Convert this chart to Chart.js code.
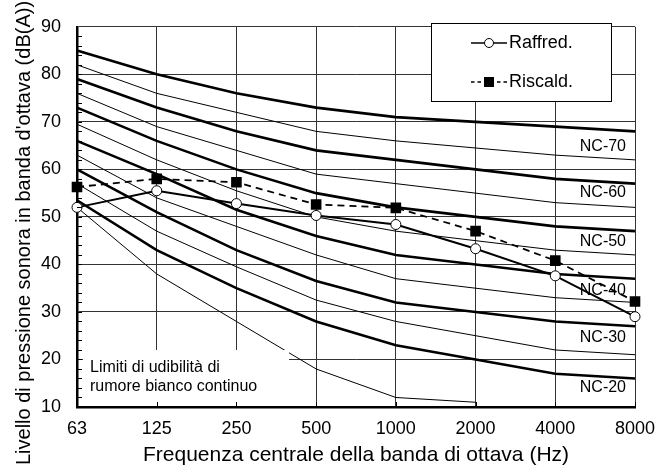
<!DOCTYPE html>
<html>
<head>
<meta charset="utf-8">
<script src="https://cdn.jsdelivr.net/npm/chart.js@4.4.0/dist/chart.umd.min.js"></script>
<style>
  html, body { margin: 0; padding: 0; background: #fff; }
  canvas { display: block; }
</style>
</head>
<body>
<canvas id="myChart" width="670" height="472"></canvas>
<script>
// frequenze centrali di banda d'ottava (Hz)
const freqLabels = ['63', '125', '250', '500', '1000', '2000', '4000', '8000'];
const yTicks = [10, 20, 30, 40, 50, 60, 70, 80, 90];

// misure
const raffred = [52, 55.5, 52.8, 50.3, 48.4, 43.3, 37.6, 29];
const riscald = [56.3, 58, 57.3, 52.6, 51.9, 47, 40.8, 32.2];

// curve NC
const nc70 = [85, 80, 76, 73, 71, 70, 69, 68];
const nc65 = [82, 76, 72, 68, 66, 64.5, 63, 62];
const nc60 = [79, 73, 68, 64, 62, 60, 58, 57];
const nc55 = [76, 69, 64, 59, 57, 55, 53, 52];
const nc50 = [73, 66, 60, 55, 52, 50, 48, 47];
const nc45 = [69.5, 62, 55.5, 50, 47, 45, 43, 42];
const nc40 = [66, 59, 51.5, 46, 42, 40, 38, 37];
const nc35 = [63, 54, 48, 42, 37, 35, 33, 32];
const nc30 = [60, 51, 43, 36.5, 32, 30, 28, 27];
const nc25 = [57, 47, 39.5, 32.5, 28, 25, 22, 21];
const nc20 = [53.5, 43, 35, 28, 23, 20, 17, 16];
// limiti di udibilita' del rumore bianco continuo
const soglia = [52, 38, 28, 18, 12, 11, null, null];

const ncLabels = ['NC-70', 'NC-60', 'NC-50', 'NC-40', 'NC-30', 'NC-20'];

const FONT = "'Liberation Sans', Arial, sans-serif";

function ncLine(data, thick) {
  return {
    data: data,
    borderColor: '#000',
    borderWidth: thick ? 2.6 : 1,
    pointRadius: 0,
    fill: false,
    tension: 0
  };
}

// testo, legenda e tacche disegnati a mano
const extras = {
  id: 'extras',
  afterDatasetsDraw(chart) {
    const ctx = chart.ctx;
    const a = chart.chartArea;
    const x = chart.scales.x;
    const y = chart.scales.y;
    ctx.save();

    // riquadro bianco con la nota
    const boxTop = y.getPixelForValue(22);
    const boxRight = x.getPixelForValue(2) + 0.66 * (x.getPixelForValue(3) - x.getPixelForValue(2));
    ctx.fillStyle = '#fff';
    ctx.fillRect(a.left + 6, boxTop, boxRight - a.left - 6, a.bottom - boxTop - 1);
    ctx.fillStyle = '#000';
    ctx.font = '16px ' + FONT;
    ctx.textAlign = 'left';
    ctx.textBaseline = 'middle';
    ctx.fillText('Limiti di udibilità di', a.left + 13, 368);
    ctx.fillText('rumore bianco continuo', a.left + 13, 387);

    // tacche interne
    ctx.strokeStyle = '#000';
    ctx.lineWidth = 1;
    ctx.beginPath();
    for (let v = 12; v < 90; v += 2) {
      const py = Math.round(y.getPixelForValue(v)) + 0.5;
      ctx.moveTo(a.left, py);
      ctx.lineTo(a.left + 5, py);
    }
    for (let i = 0; i < freqLabels.length; i++) {
      const px = Math.round(x.getPixelForValue(i)) + 0.5;
      ctx.moveTo(px, a.bottom);
      ctx.lineTo(px, a.bottom - 5);
    }
    ctx.stroke();

    // etichette NC
    const labelVals = [64.8, 55.1, 44.9, 34.5, 24.6, 14];
    ctx.font = '16px ' + FONT;
    ctx.textAlign = 'right';
    ctx.textBaseline = 'middle';
    ncLabels.forEach((t, i) => {
      ctx.fillText(t, a.right - 9, y.getPixelForValue(labelVals[i]));
    });

    // legenda
    const lx = 431.5, ly = 23.5, lw = 180, lh = 78;
    ctx.fillStyle = '#fff';
    ctx.fillRect(lx, ly, lw, lh);
    ctx.strokeStyle = '#000';
    ctx.lineWidth = 1;
    ctx.strokeRect(lx, ly, lw, lh);

    ctx.lineWidth = 1.5;
    ctx.beginPath();
    ctx.moveTo(471, 43);
    ctx.lineTo(507, 43);
    ctx.stroke();
    ctx.beginPath();
    ctx.arc(489, 43, 4.5, 0, Math.PI * 2);
    ctx.fillStyle = '#fff';
    ctx.fill();
    ctx.lineWidth = 1;
    ctx.stroke();

    ctx.lineWidth = 1.5;
    ctx.setLineDash([3.5, 3]);
    ctx.beginPath();
    ctx.moveTo(471, 82);
    ctx.lineTo(507, 82);
    ctx.stroke();
    ctx.setLineDash([]);
    ctx.fillStyle = '#000';
    ctx.fillRect(484, 77, 10, 10);

    ctx.font = '18px ' + FONT;
    ctx.textAlign = 'left';
    ctx.fillText('Raffred.', 509, 43);
    ctx.fillText('Riscald.', 509, 82);

    // titolo asse y
    ctx.translate(30, 233);
    ctx.rotate(-Math.PI / 2);
    ctx.font = '20px ' + FONT;
    ctx.textAlign = 'center';
    ctx.textBaseline = 'alphabetic';
    ctx.fillText("Livello di pressione sonora in banda d'ottava (dB(A))", 0, 0);

    ctx.restore();
  }
};

var ctx = document.getElementById('myChart').getContext('2d');
var chart = new Chart(ctx, {
  type: 'line',
  data: {
    labels: freqLabels,
    datasets: [
      {
        label: 'Riscald.',
        data: riscald,
        borderColor: '#000',
        borderWidth: 1.8,
        borderDash: [7, 5],
        pointStyle: 'rect',
        pointRadius: 7.5,
        pointBackgroundColor: '#000',
        pointBorderColor: '#000',
        pointBorderWidth: 0,
        tension: 0
      },
      {
        label: 'Raffred.',
        data: raffred,
        borderColor: '#000',
        borderWidth: 2,
        pointStyle: 'circle',
        pointRadius: 5,
        pointBackgroundColor: '#fff',
        pointBorderColor: '#000',
        pointBorderWidth: 1,
        tension: 0
      },
      ncLine(nc70, true),
      ncLine(nc65, false),
      ncLine(nc60, true),
      ncLine(nc55, false),
      ncLine(nc50, true),
      ncLine(nc45, false),
      ncLine(nc40, true),
      ncLine(nc35, false),
      ncLine(nc30, true),
      ncLine(nc25, false),
      ncLine(nc20, true),
      ncLine(soglia, false)
    ]
  },
  options: {
    responsive: false,
    animation: false,
    devicePixelRatio: 1,
    layout: { padding: { top: 13, right: 35, left: 0, bottom: 0 } },
    plugins: {
      legend: { display: false },
      tooltip: { enabled: false }
    },
    scales: {
      x: {
        type: 'category',
        offset: false,
        afterFit: (s) => { s.height = 65; },
        grid: { color: '#333', lineWidth: 1, drawTicks: false },
        border: { color: '#000', width: 2.5 },
        ticks: { color: '#000', font: { family: FONT, size: 18 }, padding: 11, maxRotation: 0 },
        title: {
          display: true,
          text: 'Frequenza centrale della banda di ottava (Hz)',
          color: '#000',
          font: { family: FONT, size: 21 },
          padding: { top: 0, bottom: 4 }
        }
      },
      y: {
        min: 10,
        max: 90,
        afterFit: (s) => { s.width = 77; },
        afterBuildTicks: (s) => { s.ticks = yTicks.map(v => ({ value: v })); },
        grid: { color: '#333', lineWidth: 1, drawTicks: false },
        border: { color: '#000', width: 2.5 },
        ticks: { color: '#000', font: { family: FONT, size: 18 }, padding: 16 }
      }
    }
  },
  plugins: [extras]
});
</script>
</body>
</html>
